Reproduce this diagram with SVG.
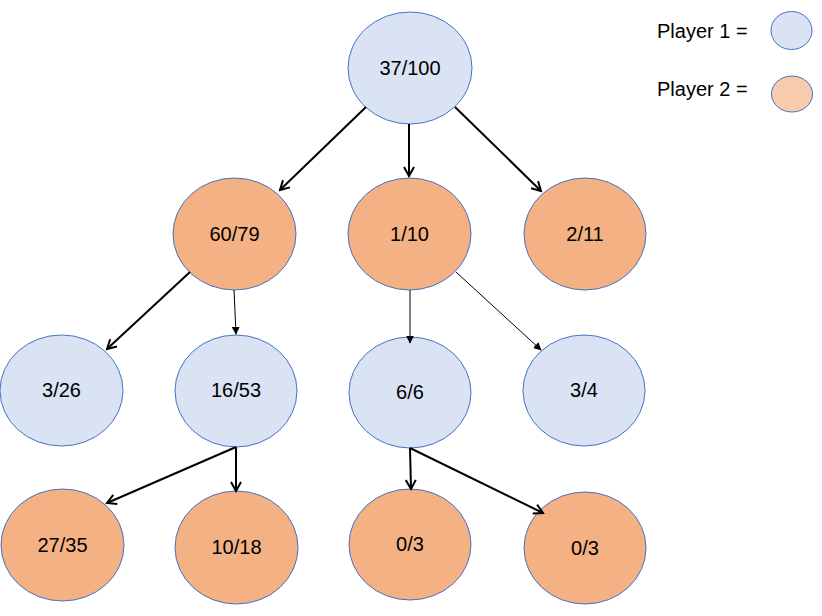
<svg xmlns="http://www.w3.org/2000/svg" width="822" height="616" viewBox="0 0 822 616">
<defs>
<marker id="open" viewBox="0 0 12 12" refX="10" refY="6" markerWidth="6" markerHeight="6" orient="auto" markerUnits="strokeWidth">
<path d="M1,1 L10,6 L1,11" fill="none" stroke="#000" stroke-width="2"/>
</marker>
<marker id="tri" viewBox="0 0 10 10" refX="9" refY="5" markerWidth="8" markerHeight="8" orient="auto" markerUnits="strokeWidth">
<path d="M0,0 L10,5 L0,10 Z" fill="#000"/>
</marker>
<style>
.p1{fill:#dae3f3;stroke:#4472c4;stroke-width:1}
.p2{fill:#f4b183;stroke:#4472c4;stroke-width:1}
.lg2{fill:#f8cbad;stroke:#4472c4;stroke-width:1}
.t{font-family:"Liberation Sans",Arial,sans-serif;font-size:20px;fill:#000;text-anchor:middle}
.lt{font-family:"Liberation Sans",Arial,sans-serif;font-size:20px;fill:#000}
.thick{stroke:#000;stroke-width:2;fill:none;marker-end:url(#open)}
.thin{stroke:#000;stroke-width:1;fill:none;marker-end:url(#tri)}
</style>
</defs>
<rect width="822" height="616" fill="#fff"/>
<g id="n_root"><ellipse class="p1" cx="410" cy="68" rx="62" ry="56"/><text class="t" x="410" y="75">37/100</text></g>
<g id="n_60_79"><ellipse class="p2" cx="234.5" cy="234" rx="61.5" ry="56"/><text class="t" x="234.5" y="241">60/79</text></g>
<g id="n_1_10"><ellipse class="p2" cx="409.5" cy="234" rx="61.5" ry="56"/><text class="t" x="409.5" y="241">1/10</text></g>
<g id="n_2_11"><ellipse class="p2" cx="585" cy="234" rx="61" ry="56"/><text class="t" x="585" y="241">2/11</text></g>
<g id="n_3_26"><ellipse class="p1" cx="61.5" cy="390.5" rx="61.5" ry="55.5"/><text class="t" x="61.5" y="397">3/26</text></g>
<g id="n_16_53"><ellipse class="p1" cx="236" cy="391" rx="61" ry="56"/><text class="t" x="236" y="397">16/53</text></g>
<g id="n_6_6"><ellipse class="p1" cx="410" cy="392.5" rx="61" ry="55.5"/><text class="t" x="410" y="399">6/6</text></g>
<g id="n_3_4"><ellipse class="p1" cx="584" cy="390.5" rx="61" ry="55.5"/><text class="t" x="584" y="397">3/4</text></g>
<g id="n_27_35"><ellipse class="p2" cx="62.5" cy="545" rx="61.5" ry="56"/><text class="t" x="62.5" y="552">27/35</text></g>
<g id="n_10_18"><ellipse class="p2" cx="236.5" cy="547.5" rx="61.5" ry="56.5"/><text class="t" x="236.5" y="554">10/18</text></g>
<g id="n_0_3a"><ellipse class="p2" cx="410" cy="544.5" rx="61" ry="55.5"/><text class="t" x="410" y="551">0/3</text></g>
<g id="n_0_3b"><ellipse class="p2" cx="585" cy="548" rx="61" ry="56"/><text class="t" x="585" y="555">0/3</text></g>
<g id="connectors">
<line class="thick" x1="366" y1="107" x2="280" y2="190"/>
<line class="thick" x1="409" y1="124" x2="409" y2="176"/>
<line class="thick" x1="455" y1="107" x2="541" y2="191"/>
<line class="thick" x1="190" y1="272" x2="107" y2="349"/>
<line class="thin" x1="234" y1="290" x2="236" y2="334"/>
<line class="thin" x1="410" y1="290" x2="410" y2="343"/>
<line class="thin" x1="456" y1="272" x2="541" y2="350"/>
<line class="thick" x1="236" y1="447" x2="107" y2="503"/>
<line class="thick" x1="236" y1="447" x2="236" y2="491"/>
<line class="thick" x1="410" y1="448" x2="411" y2="489"/>
<line class="thick" x1="410" y1="448" x2="543" y2="513"/>
</g>
<g id="legend">
<text class="lt" x="657" y="38">Player 1 =</text>
<ellipse class="p1" cx="791.5" cy="30.5" rx="20.5" ry="19"/>
<text class="lt" x="657" y="96">Player 2 =</text>
<ellipse class="lg2" cx="792" cy="94" rx="20.5" ry="18"/>
</g>
</svg>
